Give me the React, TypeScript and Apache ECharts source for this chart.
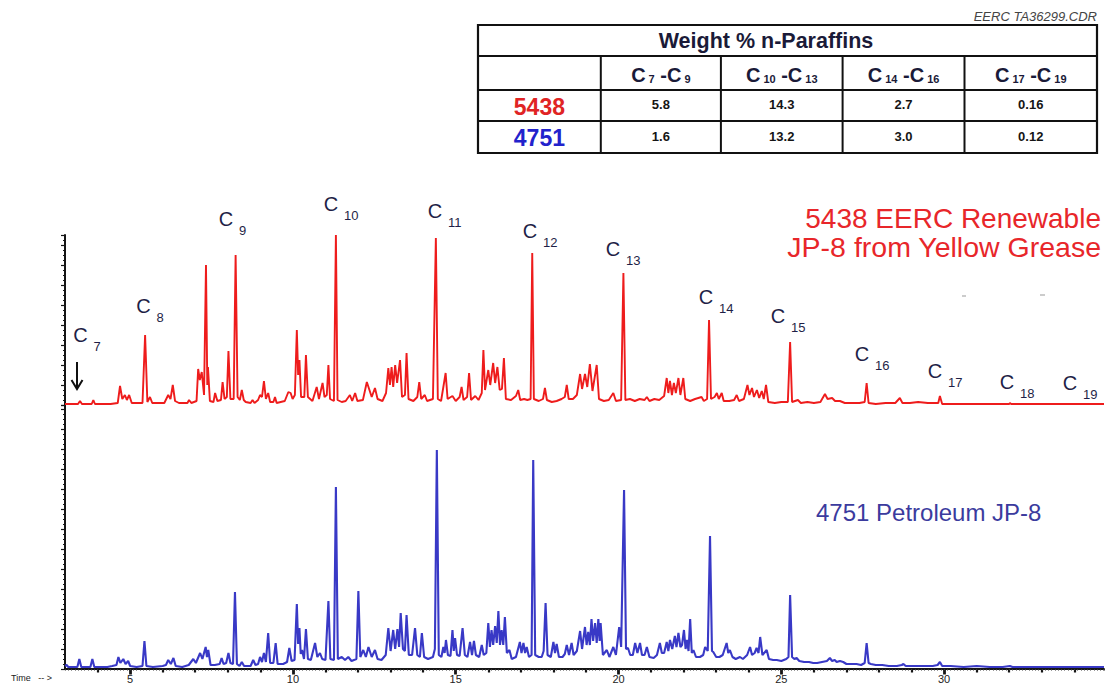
import React, { useEffect, useRef } from "react";
import * as echarts from "echarts";

// ---------- DATA ----------
// Time (min) vs detector response (arbitrary units) – 5438 renewable JP-8 (red, upper trace)
const redTrace: [number, number][] = [
  [3.0, 1], [3.4, 1], [3.46, 4], [3.52, 1], [3.82, 1], [3.87, 5], [3.92, 1],
  [4.4, 1], [4.62, 2], [4.69, 19], [4.76, 6], [4.84, 10], [4.9, 5], [4.97, 10], [5.05, 2],
  [5.38, 2], [5.46, 70], [5.53, 3], [5.61, 8], [5.68, 2],
  [6.05, 2], [6.17, 10], [6.24, 6], [6.31, 20], [6.38, 4], [6.5, 2], [6.76, 2], [6.81, 5], [6.88, 2],
  [7.04, 4], [7.09, 36], [7.14, 25], [7.2, 33], [7.27, 10], [7.33, 140], [7.37, 20], [7.39, 38], [7.45, 4],
  [7.56, 3], [7.61, 12], [7.68, 4], [7.79, 5], [7.84, 23], [7.9, 6], [7.97, 8], [8.02, 54], [8.08, 6],
  [8.18, 6], [8.24, 150], [8.3, 8], [8.37, 5], [8.43, 15], [8.49, 5], [8.55, 3],
  [8.7, 2], [8.76, 5], [8.82, 2], [8.93, 5], [8.99, 10], [9.05, 8], [9.11, 24], [9.17, 6], [9.24, 12],
  [9.3, 3], [9.4, 3], [9.45, 8], [9.5, 2], [9.75, 4], [9.86, 13], [9.93, 12], [9.99, 6], [10.06, 10],
  [10.12, 75], [10.16, 30], [10.2, 45], [10.25, 8], [10.35, 8], [10.4, 50], [10.46, 8], [10.6, 4],
  [10.73, 18], [10.8, 6], [10.91, 22], [10.97, 8], [11.04, 10], [11.09, 40], [11.14, 6], [11.26, 4],
  [11.32, 170], [11.37, 5], [11.5, 3], [11.62, 4], [11.75, 10], [11.82, 4], [11.91, 12], [11.98, 4],
  [12.15, 5], [12.27, 23], [12.34, 16], [12.42, 8], [12.52, 17], [12.6, 6], [12.75, 4], [12.86, 12],
  [12.93, 37], [12.98, 20], [13.03, 38], [13.08, 18], [13.14, 40], [13.2, 22], [13.29, 45], [13.35, 8],
  [13.44, 10], [13.49, 52], [13.55, 6], [13.7, 4], [13.82, 8], [13.88, 23], [13.94, 6], [14.05, 10],
  [14.12, 4], [14.3, 6], [14.39, 167], [14.45, 6], [14.55, 4], [14.69, 32], [14.75, 6], [14.9, 9],
  [15.0, 4], [15.12, 8], [15.18, 18], [15.24, 5], [15.35, 8], [15.41, 32], [15.47, 5], [15.6, 9],
  [15.7, 5], [15.8, 12], [15.85, 55], [15.9, 15], [16.0, 35], [16.06, 20], [16.15, 42], [16.21, 22],
  [16.28, 38], [16.35, 15], [16.42, 16], [16.48, 47], [16.54, 6], [16.7, 5], [16.85, 9], [16.92, 15],
  [16.98, 5], [17.1, 6], [17.2, 5], [17.3, 6], [17.35, 152], [17.4, 6], [17.55, 4], [17.68, 6],
  [17.74, 17], [17.8, 5], [17.95, 3], [18.1, 4], [18.25, 6], [18.35, 8], [18.41, 20], [18.47, 6],
  [18.6, 6], [18.72, 10], [18.82, 31], [18.88, 16], [18.97, 31], [19.04, 18], [19.12, 41], [19.2, 14],
  [19.33, 40], [19.4, 6], [19.55, 4], [19.7, 5], [19.84, 12], [19.92, 4], [20.08, 5], [20.15, 132],
  [20.21, 5], [20.35, 6], [20.5, 4], [20.65, 6], [20.8, 5], [20.87, 8], [20.95, 4], [21.1, 6],
  [21.25, 5], [21.4, 9], [21.48, 27], [21.53, 12], [21.58, 24], [21.64, 10], [21.7, 22], [21.76, 12],
  [21.84, 27], [21.9, 10], [21.99, 27], [22.05, 6], [22.2, 4], [22.35, 6], [22.55, 8], [22.62, 4],
  [22.72, 6], [22.78, 85], [22.84, 6], [22.95, 8], [23.02, 12], [23.08, 6], [23.17, 12], [23.23, 4],
  [23.4, 4], [23.55, 5], [23.63, 10], [23.7, 4], [23.85, 6], [23.96, 20], [24.02, 10], [24.1, 17],
  [24.16, 8], [24.25, 15], [24.32, 7], [24.4, 14], [24.46, 6], [24.53, 20], [24.6, 3], [24.8, 2],
  [25.0, 3], [25.2, 3], [25.27, 63], [25.33, 3], [25.51, 5], [25.6, 2], [25.8, 3], [26.0, 2],
  [26.2, 3], [26.34, 11], [26.42, 6], [26.56, 7], [26.65, 4], [26.8, 4], [26.95, 2], [27.2, 2],
  [27.4, 2], [27.56, 3], [27.62, 22], [27.68, 2], [27.9, 1], [28.2, 2], [28.5, 2], [28.64, 7],
  [28.72, 2], [28.95, 2], [29.2, 3], [29.5, 2], [29.7, 2], [29.82, 2], [29.87, 9], [29.94, 1],
  [30.5, 1], [31.5, 1], [32.0, 1], [32.02, 2], [32.06, 1], [34.91, 1],
];

// 4751 petroleum JP-8 (blue, lower trace)
const blueTrace: [number, number][] = [
  [3.0, 3], [3.05, 4], [3.1, 2], [3.38, 2], [3.44, 10], [3.5, 2], [3.78, 2], [3.84, 10], [3.9, 2],
  [4.3, 2], [4.45, 3], [4.58, 4], [4.64, 12], [4.7, 6], [4.79, 10], [4.86, 5], [4.94, 8], [5.0, 3],
  [5.2, 2], [5.38, 3], [5.44, 28], [5.5, 3], [5.7, 2], [6.0, 3], [6.1, 4], [6.17, 9], [6.25, 5],
  [6.33, 11], [6.4, 3], [6.6, 2], [6.8, 4], [6.94, 10], [7.02, 6], [7.15, 16], [7.22, 10], [7.32, 22],
  [7.36, 12], [7.4, 19], [7.47, 4], [7.6, 4], [7.75, 5], [7.81, 11], [7.87, 5], [7.95, 6], [8.02, 16],
  [8.08, 6], [8.16, 5], [8.22, 77], [8.28, 5], [8.36, 3], [8.43, 7], [8.5, 3], [8.7, 3], [8.78, 9],
  [8.85, 4], [8.93, 5], [8.99, 12], [9.05, 7], [9.11, 16], [9.17, 7], [9.24, 36], [9.3, 6], [9.4, 6],
  [9.47, 26], [9.53, 5], [9.7, 5], [9.82, 7], [9.89, 21], [9.96, 8], [10.05, 9], [10.12, 65],
  [10.16, 25], [10.2, 41], [10.24, 15], [10.28, 19], [10.34, 10], [10.4, 40], [10.46, 10], [10.55, 9],
  [10.68, 26], [10.75, 12], [10.83, 16], [10.9, 10], [11.0, 9], [11.09, 68], [11.15, 10], [11.26, 9],
  [11.32, 182], [11.38, 10], [11.5, 12], [11.6, 9], [11.7, 12], [11.8, 8], [11.95, 10], [12.01, 78],
  [12.07, 12], [12.16, 19], [12.24, 12], [12.32, 22], [12.42, 12], [12.52, 19], [12.6, 10], [12.72, 9],
  [12.85, 14], [12.93, 41], [13.0, 18], [13.08, 39], [13.14, 20], [13.21, 40], [13.26, 22], [13.31, 56],
  [13.38, 20], [13.44, 18], [13.49, 54], [13.56, 14], [13.66, 14], [13.75, 41], [13.82, 14], [13.9, 12],
  [13.96, 36], [14.03, 12], [14.15, 10], [14.3, 12], [14.36, 20], [14.42, 219], [14.48, 14], [14.56, 12],
  [14.62, 22], [14.66, 16], [14.7, 29], [14.76, 14], [14.84, 13], [14.9, 39], [14.94, 18], [14.98, 31],
  [15.04, 14], [15.12, 13], [15.21, 41], [15.28, 14], [15.36, 12], [15.44, 27], [15.5, 14], [15.56, 28],
  [15.62, 14], [15.72, 12], [15.8, 24], [15.86, 14], [15.94, 16], [16.0, 46], [16.05, 22], [16.1, 39],
  [16.15, 24], [16.21, 43], [16.26, 26], [16.31, 58], [16.36, 24], [16.41, 39], [16.46, 24], [16.51, 52],
  [16.57, 16], [16.65, 19], [16.72, 10], [16.85, 12], [16.97, 27], [17.02, 16], [17.08, 26], [17.13, 16],
  [17.18, 22], [17.25, 12], [17.33, 14], [17.38, 209], [17.44, 14], [17.55, 12], [17.64, 12], [17.7, 18],
  [17.76, 66], [17.82, 14], [17.92, 12], [18.0, 27], [18.05, 16], [18.1, 25], [18.17, 12], [18.28, 12],
  [18.35, 15], [18.41, 24], [18.48, 14], [18.56, 26], [18.62, 14], [18.72, 18], [18.82, 38], [18.88, 20],
  [18.97, 42], [19.02, 24], [19.07, 37], [19.12, 24], [19.17, 50], [19.22, 28], [19.28, 46], [19.33, 26],
  [19.38, 50], [19.42, 28], [19.45, 46], [19.52, 14], [19.64, 19], [19.72, 12], [19.84, 22], [19.92, 14],
  [20.02, 42], [20.08, 22], [20.17, 179], [20.23, 20], [20.29, 21], [20.36, 14], [20.44, 14], [20.51, 26],
  [20.58, 16], [20.66, 26], [20.72, 14], [20.8, 14], [20.87, 22], [20.95, 12], [21.08, 11], [21.18, 14],
  [21.27, 26], [21.33, 16], [21.4, 16], [21.48, 27], [21.53, 18], [21.58, 29], [21.65, 20], [21.73, 33],
  [21.78, 22], [21.84, 36], [21.9, 22], [21.95, 24], [22.01, 39], [22.06, 20], [22.1, 29], [22.15, 18],
  [22.2, 50], [22.25, 16], [22.3, 19], [22.38, 12], [22.5, 12], [22.6, 14], [22.66, 22], [22.74, 18],
  [22.81, 133], [22.87, 18], [22.91, 17], [23.0, 12], [23.1, 12], [23.2, 14], [23.32, 26], [23.37, 16],
  [23.42, 19], [23.5, 12], [23.6, 10], [23.73, 12], [23.82, 10], [23.95, 14], [24.04, 22], [24.1, 14],
  [24.18, 16], [24.24, 21], [24.3, 16], [24.35, 32], [24.42, 14], [24.55, 19], [24.62, 10], [24.75, 9],
  [24.86, 9], [25.0, 8], [25.15, 10], [25.22, 12], [25.27, 74], [25.33, 12], [25.4, 10], [25.47, 11],
  [25.55, 8], [25.7, 7], [25.85, 7], [25.98, 6], [26.1, 6], [26.25, 7], [26.4, 8], [26.49, 11],
  [26.56, 8], [26.64, 9], [26.7, 7], [26.8, 8], [26.9, 7], [27.0, 5], [27.15, 5], [27.31, 5],
  [27.45, 4], [27.56, 6], [27.62, 26], [27.68, 6], [27.75, 5], [27.9, 4], [28.1, 4], [28.3, 3],
  [28.55, 3], [28.7, 4], [28.75, 5], [28.82, 3], [29.1, 3], [29.4, 3], [29.65, 3], [29.8, 4],
  [29.87, 7], [29.94, 3], [30.2, 3], [30.6, 2], [31.0, 3], [31.4, 2], [31.8, 2], [32.02, 3],
  [32.1, 2], [33.0, 2], [34.91, 2],
];

const timeMin = 3;
const timeMax = 34.91;
const minorTimeTicks = [4, 6, 7, 8, 9, 11, 12, 13, 14, 16, 17, 18, 19, 21, 22, 23, 24, 26, 27, 28, 29, 31, 32, 33, 34];
const majorTimeTicks = [5, 10, 15, 20, 25, 30];

const carbonNumbers = ["7", "8", "9", "10", "11", "12", "13", "14", "15", "16", "17", "18", "19"];

const tableTitle = "Weight % n-Paraffins";
const carbonRanges: [string, string][] = [["7", "9"], ["10", "13"], ["14", "16"], ["17", "19"]];
const sampleIds = ["5438", "4751"];
const weight5438 = ["5.8", "14.3", "2.7", "0.16"];
const weight4751 = ["1.6", "13.2", "3.0", "0.12"];

// ---------- LAYOUT (pixels) ----------
const FONT = "'Liberation Sans', Arial, Helvetica, sans-serif";
const NAVY = "#1f1f47";
const RED = "#ee1c1c";
const BLUE = "#3939c6";

// centres of the "C" glyph of each peak label
const carbonLabelPos: [number, number][] = [
  [80.5, 335], [143.5, 306], [226, 219], [331, 204], [435, 211], [530, 231], [613, 249],
  [706, 297], [778, 316], [862, 354], [935, 371], [1007, 382], [1070, 383],
];

const TABLE = { left: 478, right: 1097, top: 25, bottom: 153 };
const tableRows = [56, 90, 121];
const tableCols = [600.8, 720.9, 842.6, 964.5];

function txt(text: string, x: number, y: number, font: string, fill: string, align = "center", vAlign = "middle", extra: any = {}) {
  return {
    type: "text",
    x,
    y,
    silent: true,
    style: {
      text,
      x: 0,
      y: 0,
      font,
      fill,
      align,
      verticalAlign: vAlign,
      textAlign: align,
      textVerticalAlign: vAlign,
      ...extra,
    },
  };
}

function buildGraphics() {
  const g: any[] = [];
  // file tag
  g.push(txt("EERC TA36299.CDR", 1097, 16, `italic 13px ${FONT}`, "#444", "right"));

  // table frame
  g.push({
    type: "rect",
    shape: { x: TABLE.left, y: TABLE.top, width: TABLE.right - TABLE.left, height: TABLE.bottom - TABLE.top },
    style: { fill: "#fff", stroke: "#111", lineWidth: 2.2 },
  });
  tableRows.forEach((y) =>
    g.push({ type: "line", shape: { x1: TABLE.left, y1: y, x2: TABLE.right, y2: y }, style: { stroke: "#111", lineWidth: 2 } })
  );
  tableCols.forEach((x) =>
    g.push({ type: "line", shape: { x1: x, y1: tableRows[0], x2: x, y2: TABLE.bottom }, style: { stroke: "#111", lineWidth: 2 } })
  );
  g.push(txt(tableTitle, 766, 41, `bold 21.5px ${FONT}`, "#1a1a38"));

  const colEdges = [...tableCols, TABLE.right];
  const colCenters = carbonRanges.map((_, i) => (colEdges[i] + colEdges[i + 1]) / 2);
  const headY = (tableRows[0] + tableRows[1]) / 2;
  const row1Y = (tableRows[1] + tableRows[2]) / 2;
  const row2Y = (tableRows[2] + TABLE.bottom) / 2;

  carbonRanges.forEach(([a, b], i) => {
    g.push(
      txt(`{c|C}{s| ${a}}{c| -C}{s| ${b}}`, colCenters[i], headY, `bold 20px ${FONT}`, "#1a1a38", "center", "middle", {
        rich: {
          c: { font: `bold 20px ${FONT}`, fill: "#1a1a38", lineHeight: 23, verticalAlign: "bottom" },
          s: { font: `bold 11px ${FONT}`, fill: "#1a1a38", lineHeight: 12, verticalAlign: "bottom" },
        },
      })
    );
    g.push(txt(weight5438[i], colCenters[i], row1Y - 1, `bold 13px ${FONT}`, "#151515"));
    g.push(txt(weight4751[i], colCenters[i], row2Y - 1, `bold 13px ${FONT}`, "#151515"));
  });
  const idX = (TABLE.left + tableCols[0]) / 2;
  g.push(txt(sampleIds[0], idX, row1Y + 1, `bold 23px ${FONT}`, "#e02424"));
  g.push(txt(sampleIds[1], idX, row2Y + 1, `bold 23px ${FONT}`, "#2222cc"));

  // peak labels
  carbonNumbers.forEach((n, i) => {
    const [cx, cy] = carbonLabelPos[i];
    g.push(txt("C", cx, cy, `20px ${FONT}`, NAVY));
    g.push(txt(n, cx + 13, cy + 11, `13px ${FONT}`, NAVY, "left"));
  });

  // C7 arrow
  g.push({ type: "line", shape: { x1: 77, y1: 362, x2: 77, y2: 388 }, style: { stroke: "#111", lineWidth: 2 } });
  g.push({ type: "polyline", shape: { points: [[71.5, 380], [77, 389], [82.5, 380]] }, style: { stroke: "#111", lineWidth: 2, fill: "none" } });

  // trace titles
  g.push(txt("5438 EERC Renewable", 1101, 218, `28px ${FONT}`, "#e8262a", "right"));
  g.push(txt("JP-8 from Yellow Grease", 1101, 247, `28.5px ${FONT}`, "#e8262a", "right"));
  g.push(txt("4751 Petroleum JP-8", 816, 512, `24px ${FONT}`, "#3b3b9e", "left"));

  // faint stray marks
  g.push({ type: "line", shape: { x1: 962, y1: 296, x2: 966, y2: 296 }, style: { stroke: "#bbb", lineWidth: 1.5 } });
  g.push({ type: "line", shape: { x1: 1040, y1: 295, x2: 1045, y2: 295 }, style: { stroke: "#bbb", lineWidth: 1.5 } });

  // axis caption
  g.push(txt("Time   -- >", 11, 678, `9px ${FONT}`, "#222", "left"));
  return g;
}

function buildOption(): any {
  const axisBlack = "#151515";
  const yCommon = {
    type: "value",
    min: 0,
    interval: 20,
    axisLine: { show: true, lineStyle: { color: axisBlack, width: 2 } },
    axisTick: { show: true, inside: false, length: 4, lineStyle: { color: axisBlack, width: 1.2 } },
    minorTick: { show: true, splitNumber: 4, length: 2, lineStyle: { color: axisBlack, width: 1 } },
    axisLabel: { show: false },
    splitLine: { show: false },
  };
  const bottomAxis = { type: "value", gridIndex: 1, min: timeMin, max: timeMax, position: "bottom", offset: 0, splitLine: { show: false } };
  return {
    animation: false,
    backgroundColor: "#ffffff",
    grid: [
      { left: 65, right: 2, top: 235, height: 170 },
      { left: 65, right: 2, top: 405, height: 264 },
    ],
    xAxis: [
      { type: "value", gridIndex: 0, min: timeMin, max: timeMax, show: false },
      {
        ...bottomAxis,
        axisLine: { show: true, lineStyle: { color: axisBlack, width: 1.8 } },
        axisTick: { show: true, customValues: minorTimeTicks, length: 3.5, lineStyle: { color: axisBlack, width: 2.2 } },
        axisLabel: {
          show: true,
          customValues: majorTimeTicks,
          fontSize: 11,
          color: "#222",
          fontFamily: FONT,
          margin: 4,
        },
      },
      {
        ...bottomAxis,
        axisLine: { show: false },
        axisTick: { show: true, customValues: majorTimeTicks, length: 5.5, lineStyle: { color: axisBlack, width: 2.8 } },
        axisLabel: { show: false },
      },
      {
        ...bottomAxis,
        interval: 0.1,
        axisLine: { show: false },
        axisTick: { show: true, length: 1.5, lineStyle: { color: "#333", width: 1 } },
        axisLabel: { show: false },
      },
    ],
    yAxis: [
      { ...yCommon, gridIndex: 0, max: 170 },
      { ...yCommon, gridIndex: 1, max: 264 },
    ],
    series: [
      {
        type: "line",
        name: "5438 EERC Renewable JP-8",
        xAxisIndex: 0,
        yAxisIndex: 0,
        data: redTrace,
        showSymbol: false,
        symbol: "none",
        lineStyle: { color: RED, width: 1.9 },
        z: 3,
      },
      {
        type: "line",
        name: "4751 Petroleum JP-8",
        xAxisIndex: 1,
        yAxisIndex: 1,
        data: blueTrace,
        showSymbol: false,
        symbol: "none",
        lineStyle: { color: BLUE, width: 2.1 },
        z: 3,
      },
    ],
    graphic: buildGraphics(),
  };
}

export default function App() {
  const ref = useRef<HTMLDivElement>(null);
  useEffect(() => {
    if (!ref.current) return;
    const chart = echarts.init(ref.current, null, { renderer: "svg" });
    chart.setOption(buildOption());
    return () => chart.dispose();
  }, []);
  return (
    <div
      ref={ref}
      style={{ position: "fixed", left: 0, top: 0, width: 1106, height: 695, background: "#fff" }}
    />
  );
}
